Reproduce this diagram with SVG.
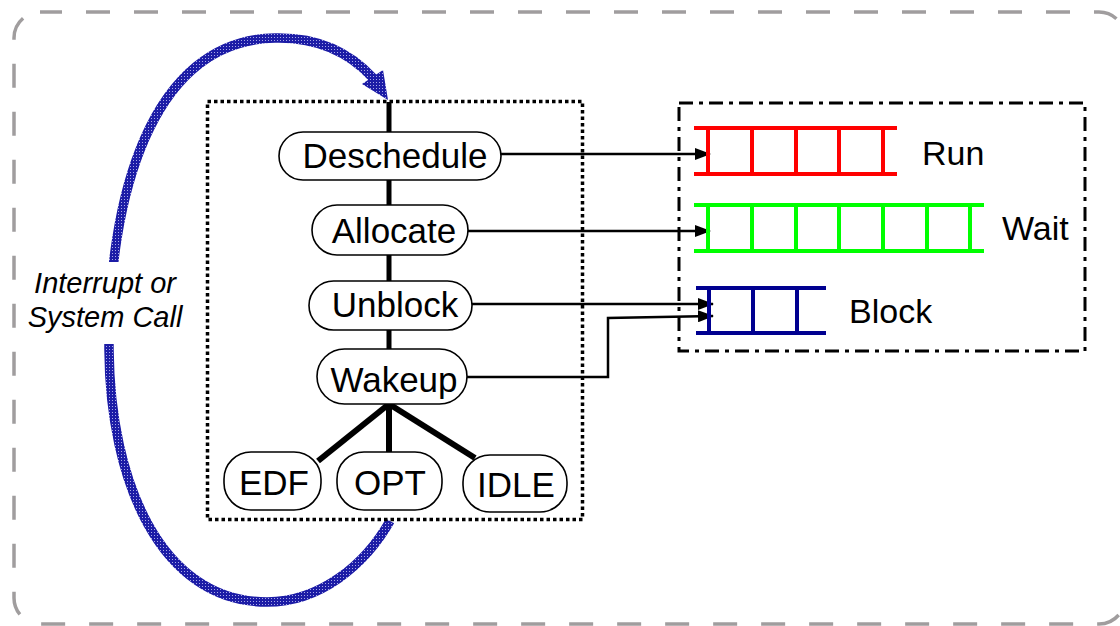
<svg xmlns="http://www.w3.org/2000/svg" width="1120" height="626" viewBox="0 0 1120 626">
  <style>
    .pill { fill: #ffffff; stroke: #000000; stroke-width: 1.6; }
    .lbl { font-family: "Liberation Sans", Arial, sans-serif; font-size: 35px; fill: #000000; text-anchor: middle; }
    .note { font-family: "Liberation Sans", Arial, sans-serif; font-size: 29px; font-style: italic; fill: #000000; text-anchor: middle; }
    .qname { font-family: "Liberation Sans", Arial, sans-serif; font-size: 34px; fill: #000000; }
    .spine { stroke: #000000; stroke-width: 5; fill: none; }
    .branch { stroke: #000000; stroke-width: 6; fill: none; }
    .conn { stroke: #000000; stroke-width: 2.5; fill: none; }
    .run { stroke: #ff0000; stroke-width: 4; fill: none; }
    .wait { stroke: #00ff00; stroke-width: 4; fill: none; }
    .block { stroke: #000090; stroke-width: 4; fill: none; }
  </style>
  <defs>
    <pattern id="blueTexture" patternUnits="userSpaceOnUse" width="3" height="3">
      <rect width="3" height="3" fill="#1c1ca6"/>
      <rect x="1" y="1" width="1" height="1" fill="#a8a8e6"/>
    </pattern>
    <marker id="head" viewBox="0 0 16 12" refX="15" refY="6" markerWidth="16" markerHeight="12" markerUnits="userSpaceOnUse" orient="auto">
      <path d="M0,0 L16,6 L0,12 Z" fill="#000000"/>
    </marker>
  </defs>

  <!-- outer frame -->
  <rect id="frame" x="14" y="12" width="1111" height="612" rx="26" ry="26" fill="none" stroke="#a09d9e" stroke-width="3.5" stroke-dasharray="24 24" stroke-dashoffset="2"/>

  <!-- trap / return loop -->
  <g id="loop">
    <path d="M 390 521 C 365 565, 320 602, 267 602 C 160 602, 110 480, 109 350 C 108 200, 150 40, 275 38 C 320 37, 352 55, 373 78" fill="none" stroke="url(#blueTexture)" stroke-width="9.5"/>
    <polygon points="388,100 362,84 383,70" fill="url(#blueTexture)"/>
  </g>

  <!-- loop caption -->
  <g id="caption">
    <rect x="28" y="262" width="158" height="82" fill="#ffffff"/>
    <text class="note" x="105" y="293">Interrupt or</text>
    <text class="note" x="105" y="327">System Call</text>
  </g>

  <!-- scheduler box -->
  <rect id="schedBox" x="207.5" y="101.5" width="375" height="418" fill="none" stroke="#000000" stroke-width="3.5" stroke-dasharray="3.5 3"/>

  <!-- queue box -->
  <rect id="queueBox" x="679" y="103" width="406" height="248" fill="none" stroke="#000000" stroke-width="3" stroke-dasharray="14 6 4 6"/>

  <!-- tree edges -->
  <g id="tree">
    <line class="spine" x1="389" y1="102" x2="389" y2="132"/>
    <line class="spine" x1="389" y1="180" x2="389" y2="205"/>
    <line class="spine" x1="389" y1="255" x2="389" y2="281"/>
    <line class="spine" x1="389" y1="330" x2="389" y2="349"/>
    <line class="branch" x1="389" y1="404" x2="318" y2="461"/>
    <line class="branch" x1="389" y1="404" x2="389" y2="452"/>
    <line class="branch" x1="389" y1="404" x2="475" y2="458"/>
  </g>

  <!-- connectors to queues -->
  <g id="connectors">
    <line class="conn" x1="501" y1="154" x2="710" y2="154" marker-end="url(#head)"/>
    <line class="conn" x1="468" y1="231" x2="710" y2="231" marker-end="url(#head)"/>
    <line class="conn" x1="472" y1="304" x2="713" y2="304" marker-end="url(#head)"/>
    <polyline class="conn" points="467,377 608,377 608,318 713,316" marker-end="url(#head)"/>
  </g>

  <g id="deschedule">
    <rect class="pill" x="279" y="132" width="222" height="48" rx="24"/>
    <text class="lbl" x="395" y="168">Deschedule</text>
  </g>
  <g id="allocate">
    <rect class="pill" x="312" y="205" width="156" height="50" rx="25"/>
    <text class="lbl" x="394" y="243">Allocate</text>
  </g>
  <g id="unblock">
    <rect class="pill" x="309" y="281" width="163" height="49" rx="24.5"/>
    <text class="lbl" x="395" y="317">Unblock</text>
  </g>
  <g id="wakeup">
    <rect class="pill" x="317" y="349" width="150" height="55" rx="27.5"/>
    <text class="lbl" x="394" y="392">Wakeup</text>
  </g>
  <g id="edf">
    <rect class="pill" x="224" y="452" width="97" height="58" rx="27"/>
    <text class="lbl" x="274" y="495">EDF</text>
  </g>
  <g id="opt">
    <rect class="pill" x="337" y="452" width="105" height="58" rx="27"/>
    <text class="lbl" x="390" y="495">OPT</text>
  </g>
  <g id="idle">
    <rect class="pill" x="463" y="455" width="104" height="57" rx="27"/>
    <text class="lbl" x="516" y="497">IDLE</text>
  </g>

  <!-- run queue -->
  <g id="runQueue">
    <line class="run" x1="694" y1="128" x2="897" y2="128"/>
    <line class="run" x1="694" y1="174" x2="897" y2="174"/>
    <path class="run" d="M708,128 V174 M752,128 V174 M796,128 V174 M839,128 V174 M883,128 V174"/>
    <text class="qname" x="922" y="165">Run</text>
  </g>

  <!-- wait queue -->
  <g id="waitQueue">
    <line class="wait" x1="694" y1="205" x2="984" y2="205"/>
    <line class="wait" x1="694" y1="251" x2="984" y2="251"/>
    <path class="wait" d="M708,205 V251 M752,205 V251 M796,205 V251 M839,205 V251 M883,205 V251 M927,205 V251 M970,205 V251"/>
    <text class="qname" x="1002" y="240">Wait</text>
  </g>

  <!-- block queue -->
  <g id="blockQueue">
    <line class="block" x1="696" y1="288" x2="826" y2="288"/>
    <line class="block" x1="696" y1="333" x2="826" y2="333"/>
    <path class="block" d="M709,288 V333 M753,288 V333 M797,288 V333"/>
    <text class="qname" x="849" y="323">Block</text>
  </g>
</svg>
